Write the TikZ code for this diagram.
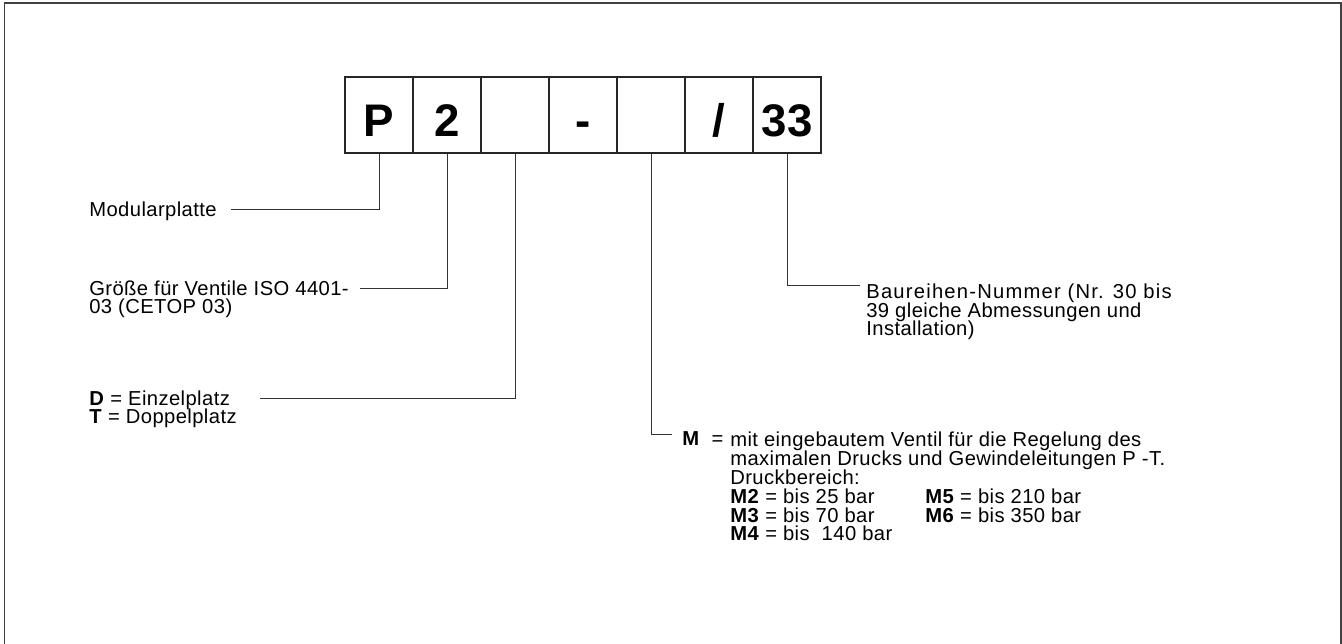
\documentclass[tikz,border=0pt]{standalone}
\usepackage{fontspec}
\setmainfont{Liberation Sans}
\newfontfamily\labelfont[LetterSpace=2]{Liberation Sans}
\newfontfamily\spacedfont[LetterSpace=6]{Liberation Sans}
\usetikzlibrary{positioning}

% even line pitch inside the multi-line labels
\newcommand\evenlines{\fontsize{11.5}{10.8}\selectfont\lineskiplimit=-100pt\relax}

\tikzset{
  cell/.style={draw=black!85, line width=0.025cm, minimum width=1.36cm, minimum height=1.52cm,
    inner sep=0pt, text height=0.88cm, text depth=0pt,
    font=\fontsize{26}{26}\selectfont\bfseries},
  lbl/.style={anchor=base west, inner sep=0pt, align=left,
    font=\labelfont\fontsize{11.5}{10.8}\selectfont},
  lead/.style={draw=black!80, line width=0.02cm},
}

\begin{document}
\begin{tikzpicture}[x=0.02cm, y=-0.02cm, execute at begin picture={\evenlines}]
\useasboundingbox (0,0) rectangle (1342,644);
% frame, open at the bottom
\draw[black!75, line width=0.04cm] (4.5,644) -- (4.5,3.5) -- (1341,3.5) -- (1341,644);

% type code boxes
\node[cell] (p1) at (379,115) {P};
\node[cell] (p2) at (447,115) {2};
\node[cell] (p3) at (515,115) {};
\node[cell] (p4) at (583,115) {-};
\node[cell] (p5) at (651,115) {};
\node[cell] (p6) at (719,115) {/};
\node[cell] (p7) at (787,115) {33};

% explanations (anchored at the baseline of the last line)
\node[lbl] (mod) at (89,217) {Modularplatte};
\node[lbl] (size) at (89,314) {Größe für Ventile ISO 4401-\\03 (CETOP 03)};
\node[lbl] (place) at (89,424) {\textbf{D} = Einzelplatz\\\textbf{T} = Doppelplatz};
\node[lbl] (mkey) at (682,446) {\textbf{M}\ \ =};
\node[lbl] (mtext) at (730,541) {mit eingebautem Ventil für die Regelung des\\
  maximalen Drucks und Gewindeleitungen P -T.\\
  Druckbereich:\\
  \makebox[3.9cm][l]{\textbf{M2} = bis 25 bar}\textbf{M5} = bis 210 bar\\
  \makebox[3.9cm][l]{\textbf{M3} = bis 70 bar}\textbf{M6} = bis 350 bar\\
  \textbf{M4} = bis~ 140 bar};
\node[lbl] (series) at (866,336) {\spacedfont Baureihen-Nummer (Nr. 30 bis\\39 gleiche Abmessungen und\\Installation)};

% free ends of the leader lines
\coordinate (modEnd) at (231,210);
\coordinate (sizeEnd) at (360,289);
\coordinate (placeEnd) at (260,399);
\coordinate (mEnd) at (672,435);
\coordinate (seriesEnd) at (860,286);

% leader lines
\draw[lead] (p1.south) |- (modEnd);
\draw[lead] (p2.south) |- (sizeEnd);
\draw[lead] (p3.south) |- (placeEnd);
\draw[lead] (p5.south) |- (mEnd);
\draw[lead] (p7.south) |- (seriesEnd);
\end{tikzpicture}
\end{document}
